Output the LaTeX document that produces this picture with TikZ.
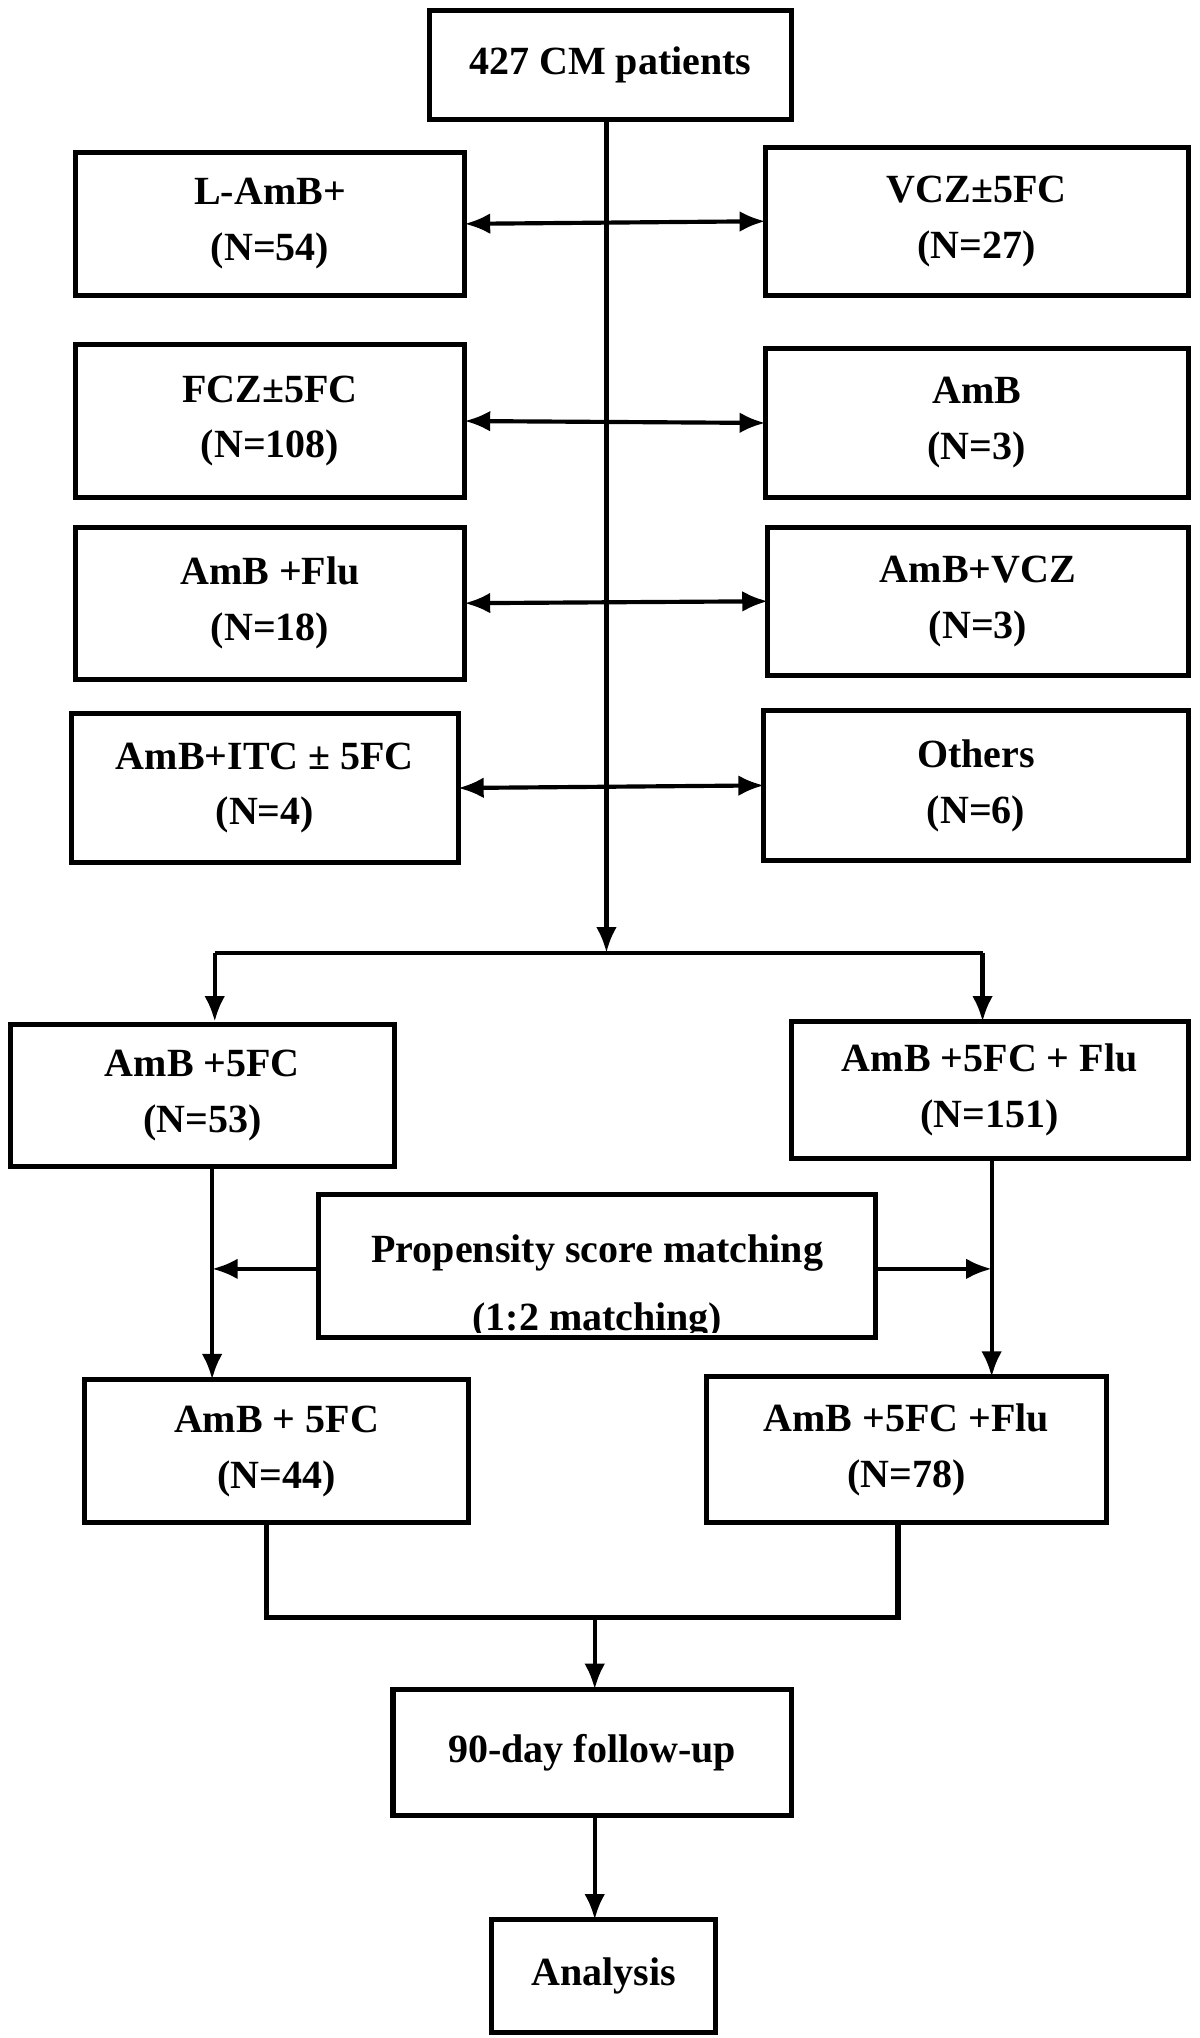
\documentclass[tikz,border=0pt]{standalone}
\usepackage{fontspec}
\setmainfont{Liberation Serif}
\usetikzlibrary{arrows.meta}
\begin{document}
\begin{tikzpicture}[x=0.0143cm,y=-0.0143cm,
 box/.style={draw,line width=1.6pt,inner sep=0pt,outer sep=0pt,align=center,font=\fontsize{12.5}{17.5}\selectfont\bfseries},
 ar/.style={line width=1.3pt,-{Latex[length=8pt,width=6.5pt]}},
 dar/.style={line width=1.3pt,{Latex[length=8pt,width=6.5pt]}-{Latex[length=8pt,width=6.5pt]}},
 ln/.style={line width=1.3pt}]
\useasboundingbox (0,0) rectangle (922,1566);
\newcommand\bx[6]{\node[box,minimum width={(#4-#2)*0.0143cm},minimum height={(#5-#3)*0.0143cm}] (#1) at ({(#2+#4)/2},{(#3+#5)/2}) {#6};}
\bx{top}{330}{8}{608}{92}{427 CM patients}
\bx{L1}{58}{117}{357}{227}{L-AmB+\\(N=54)}
\bx{R1}{588}{113}{913}{227}{VCZ±5FC\\(N=27)}
\bx{L2}{58}{265}{357}{382}{FCZ±5FC\\(N=108)}
\bx{R2}{588}{268}{913}{382}{AmB\\(N=3)}
\bx{L3}{58}{405}{357}{522}{AmB +Flu\\(N=18)}
\bx{R3}{590}{405}{913}{519}{AmB+VCZ\\(N=3)}
\bx{L4}{55}{548}{352}{663}{AmB+ITC ± 5FC\\(N=4)}
\bx{R4}{587}{546}{913}{661}{Others\\(N=6)}
\bx{A}{8}{787}{303}{896}{AmB +5FC\\(N=53)}
\bx{B}{608}{785}{913}{890}{AmB +5FC + Flu\\(N=151)}
\node[draw,line width=1.6pt,inner sep=0pt,outer sep=0pt,minimum width={428*0.0143cm},minimum height={110*0.0143cm}] (psm) at (459,973) {};
\node[font=\fontsize{12.5}{17.5}\selectfont\bfseries,align=center,anchor=north] (psmt) at (459,940) {Propensity score matching};
\begin{scope}
\clip (245,980) rectangle (673,1024);
\node[font=\fontsize{12.5}{17.5}\selectfont\bfseries,anchor=north] (psmt2) at (459,992) {(1:2 matching)};
\end{scope}
\bx{C}{65}{1060}{360}{1170}{AmB + 5FC\\(N=44)}
\bx{D}{543}{1058}{850}{1170}{AmB +5FC +Flu\\(N=78)}
\bx{F}{302}{1298}{608}{1395}{90-day follow-up}
\bx{G}{378}{1475}{550}{1562}{Analysis}
\coordinate (split) at (466,732);
\coordinate (lx) at (163,0);
\coordinate (rx) at (762,0);
\coordinate (py) at (0,975);
\coordinate (bx1) at (205,0);
\coordinate (bx2) at (690,0);
\coordinate (by) at (0,1243);
\coordinate (mx) at (457,0);
\draw[ar] (top.south -| split) -- (split);
\draw[ln] (165,732) -- (755,732);
\draw[ar] (165,732) -- (165,785);
\draw[ar] (755,732) -- (755,785);
\foreach \i in {1,2,3,4}{\draw[dar] (L\i.east) -- (R\i.west);}
\draw[ar] (A.south -| lx) -- (C.north -| lx);
\draw[ar] (B.south -| rx) -- (D.north -| rx);
\draw[ar] (psm.west |- py) -- (py -| lx);
\draw[ar] (psm.east |- py) -- (py -| rx);
\draw[line width=1.6pt] (C.south -| bx1) -- (by -| bx1) -- (by -| bx2) -- (D.south -| bx2);
\draw[ar] (by -| mx) -- (F.north -| mx);
\draw[ar] (F.south -| mx) -- (G.north -| mx);
\end{tikzpicture}
\end{document}
